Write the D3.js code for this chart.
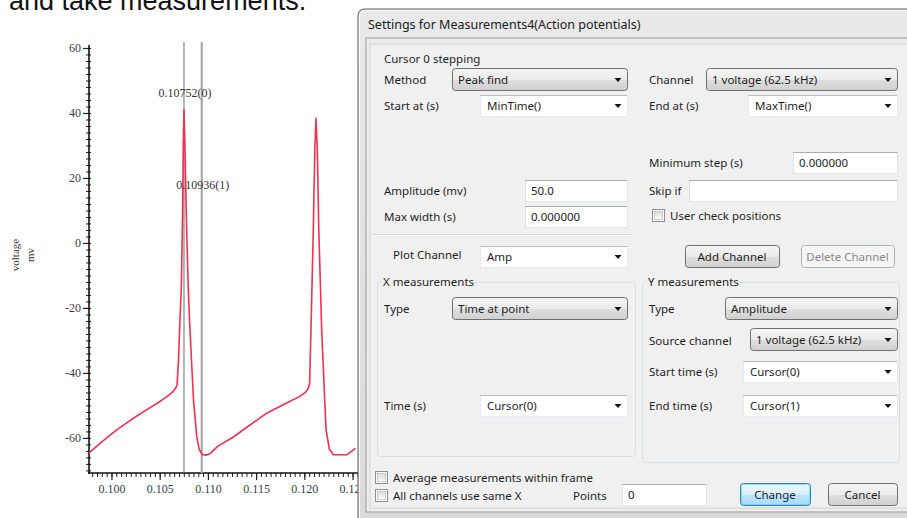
<!DOCTYPE html>
<html>
<head>
<meta charset="utf-8">
<script src="https://cdn.jsdelivr.net/npm/d3@7"></script>
<style>
  html, body { margin: 0; padding: 0; background: #fff; overflow: hidden; }
  svg { display: block; }
</style>
</head>
<body>
<div id="chart"></div>
<script>
// voltage trace (time in s, voltage in mV)
const timeS = [
  0.09767, 0.0990, 0.1005, 0.1020, 0.1035, 0.1047, 0.1058, 0.1063, 0.1066, 0.1068,
  0.10695, 0.1071, 0.10725, 0.10738, 0.10745, 0.10752, 0.10762, 0.10775, 0.10795,
  0.1081, 0.1085, 0.10884, 0.1091, 0.1094, 0.1098,
  0.1102, 0.1110, 0.1126, 0.1140, 0.1161, 0.1180, 0.1195, 0.1201, 0.1204, 0.12055,
  0.1207, 0.12093, 0.12108, 0.12121, 0.12135, 0.1215, 0.1218, 0.12225,
  0.1226, 0.1230, 0.1244, 0.1253
];
const voltageMv = [
  -64.6, -61.2, -57.6, -54.5, -51.6, -49.4, -47.2, -46.0, -44.9, -43.8,
  -36, -24, -13, 10, 31, 41, 30, 10, -13,
  -24, -48, -59.6, -63.5, -65.1, -65.3,
  -64.9, -62.6, -59.8, -56.8, -52.4, -49.5, -47.3, -46.0, -44.8, -43.2,
  -25, 4, 28, 38.4, 28, 4, -27, -57.5,
  -63.5, -65.2, -65.2, -63.2
];
const cursorTimes = [0.10752, 0.10936];
const cursorNames = ['0.10752(0)', '0.10936(1)'];
const yMajorTicks = [-60, -40, -20, 0, 20, 40, 60];
const xMajorTicks = [0.100, 0.105, 0.110, 0.115, 0.120, 0.125];
const yAxisTitle = ['voltage', 'mv'];
const pageHeading = 'and take measurements.';
const dialogTitle = 'Settings for Measurements4(Action potentials)';

const width = 907;
const height = 518;
const uiFont = '"Noto Sans", "Open Sans", sans-serif';
const serif = '"Liberation Serif", "DejaVu Serif", serif';

const svg = d3.select('#chart').append('svg')
  .attr('width', width)
  .attr('height', height)
  .attr('viewBox', `0 0 ${width} ${height}`);

const defs = svg.append('defs');
function grad(id, stops) {
  const g = defs.append('linearGradient').attr('id', id)
    .attr('x1', 0).attr('y1', 0).attr('x2', 0).attr('y2', 1);
  stops.forEach(s => g.append('stop').attr('offset', s[0]).attr('stop-color', s[1]));
}
grad('btnGrad', [[0, '#f4f4f4'], [0.5, '#ebebeb'], [0.52, '#dedede'], [1, '#d0d0d0']]);
grad('defGrad', [[0, '#eaf6fd'], [0.5, '#d9f0fc'], [0.52, '#bee6fd'], [1, '#a7d9f5']]);
grad('titleGrad', [[0, '#e9e9e9'], [1, '#dadada']]);
grad('chkGrad', [[0, '#dcdcdc'], [1, '#fbfbfb']]);

// page heading, its top is cut off by the screenshot edge just like the original
svg.append('text')
  .attr('x', 9).attr('y', 10)
  .attr('font-family', '"Liberation Sans", Arial, sans-serif')
  .attr('font-size', 27)
  .attr('fill', '#111')
  .text(pageHeading);

// ---- the chart ----
const x = d3.scaleLinear().domain([0.09767, 0.12546]).range([89, 357]);
const y = d3.scaleLinear().domain([-70.8, 60]).range([473, 48]);

const plot = svg.append('g').attr('class', 'plot');

// y axis: minor every 2 mV, major every 20 mV
const yMinor = d3.range(-70, 61, 2);
plot.append('g')
  .attr('transform', 'translate(89,0)')
  .call(d3.axisLeft(y).tickValues(yMinor).tickSize(3).tickFormat(''))
  .call(g => g.select('.domain').remove())
  .call(g => g.selectAll('.tick line').attr('x2', 2).attr('x1', -3).attr('stroke', '#222'));
plot.append('g')
  .attr('transform', 'translate(89,0)')
  .call(d3.axisLeft(y).tickValues(yMajorTicks).tickSize(6).tickPadding(2).tickFormat(d => String(d)))
  .call(g => g.select('.domain').remove())
  .call(g => g.selectAll('.tick line').attr('stroke', '#222').attr('stroke-width', 1.2))
  .call(g => g.selectAll('.tick text')
    .attr('font-family', serif).attr('font-size', 12).attr('fill', '#3a3a4a'));
plot.append('line')
  .attr('x1', 89).attr('x2', 89).attr('y1', 45).attr('y2', 474)
  .attr('stroke', '#111').attr('stroke-width', 1.6);

// x axis: minor every 0.5 ms
const xMinor = d3.range(0.098, 0.1256, 0.0005);
plot.append('g')
  .attr('transform', 'translate(0,473)')
  .call(d3.axisBottom(x).tickValues(xMinor).tickSize(4).tickFormat(''))
  .call(g => g.select('.domain').remove())
  .call(g => g.selectAll('.tick line').attr('stroke', '#222'));
plot.append('g')
  .attr('transform', 'translate(0,473)')
  .call(d3.axisBottom(x).tickValues(xMajorTicks).tickSize(7).tickPadding(4).tickFormat(d3.format('.3f')))
  .call(g => g.select('.domain').remove())
  .call(g => g.selectAll('.tick line').attr('stroke', '#222').attr('stroke-width', 1.2))
  .call(g => g.selectAll('.tick text')
    .attr('font-family', serif).attr('font-size', 12).attr('fill', '#3a3a4a'));
plot.append('line')
  .attr('x1', 88).attr('x2', 360).attr('y1', 473).attr('y2', 473)
  .attr('stroke', '#111').attr('stroke-width', 1.6);

// y axis title, two rotated lines
yAxisTitle.forEach((t, i) => {
  plot.append('text')
    .attr('transform', `translate(${19 + i * 15},255) rotate(-90)`)
    .attr('text-anchor', 'middle')
    .attr('font-family', serif).attr('font-size', 11).attr('fill', '#333')
    .text(t);
});

// cursors
const cursorStroke = ['#6e6e6e', '#a2a2a2'];
const cursorWidth = [1, 2];
const cursorLabelY = [97, 189];
cursorTimes.forEach((t, i) => {
  plot.append('line')
    .attr('x1', x(t)).attr('x2', x(t)).attr('y1', 42).attr('y2', 473)
    .attr('stroke', cursorStroke[i]).attr('stroke-width', cursorWidth[i]);
});

// trace
const trace = timeS.map((t, i) => [t, voltageMv[i]]);
plot.append('path')
  .datum(trace)
  .attr('fill', 'none')
  .attr('stroke', '#f2304f')
  .attr('stroke-width', 1.6)
  .attr('stroke-linejoin', 'round')
  .attr('d', d3.line().x(d => x(d[0])).y(d => y(d[1])));

cursorTimes.forEach((t, i) => {
  plot.append('text')
    .attr('x', x(t) + 1).attr('y', cursorLabelY[i])
    .attr('text-anchor', 'middle')
    .attr('font-family', serif).attr('font-size', 12).attr('fill', '#333')
    .text(cursorNames[i]);
});

// ---- the settings dialog laid over the right side ----
const dlg = svg.append('g').attr('class', 'dialog')
  .attr('font-family', uiFont).attr('font-size', 11.5).attr('fill', '#1e1e1e');

dlg.append('path')
  .attr('d', 'M358,520 L358,16 Q358,9 365,9 L912,9 L912,520 Z')
  .attr('fill', 'url(#titleGrad)').attr('stroke', '#5c5c5c');
dlg.append('path')
  .attr('d', 'M359.5,520 L359.5,17 Q359.5,10.5 366,10.5 L912,10.5')
  .attr('fill', 'none').attr('stroke', '#fbfbfb');
dlg.append('rect')
  .attr('x', 366).attr('y', 38).attr('width', 560).attr('height', 474)
  .attr('fill', '#ececec').attr('stroke', '#9a9a9a');
dlg.append('rect')
  .attr('x', 370).attr('y', 44).attr('width', 560).attr('height', 464)
  .attr('fill', '#f0f0f0').attr('stroke', '#d2d2d2');
dlg.append('text')
  .attr('x', 368).attr('y', 25).attr('dy', '0.35em')
  .attr('font-size', 12.5).attr('fill', '#1b1b1b')
  .text(dialogTitle);

function label(x0, yc, t, color) {
  dlg.append('text').attr('x', x0).attr('y', yc).attr('dy', '0.35em')
    .attr('fill', color || '#1e1e1e').text(t);
}
function arrow(xc, yc) {
  dlg.append('path')
    .attr('d', `M${xc - 3.5},${yc - 2} L${xc + 3.5},${yc - 2} L${xc},${yc + 2} Z`)
    .attr('fill', '#111');
}
function buttonCombo(x0, x1, yc, t) {
  dlg.append('rect').attr('x', x0 + 0.5).attr('y', yc - 11.5).attr('width', x1 - x0)
    .attr('height', 22).attr('rx', 3).attr('fill', 'url(#btnGrad)').attr('stroke', '#707070');
  label(x0 + 6, yc, t);
  arrow(x1 - 9, yc);
}
function editCombo(x0, x1, yc, t) {
  dlg.append('rect').attr('x', x0 + 0.5).attr('y', yc - 10.5).attr('width', x1 - x0)
    .attr('height', 21).attr('fill', '#fff').attr('stroke', '#e6e9ee');
  dlg.append('line').attr('x1', x0).attr('x2', x1).attr('y1', yc - 10.5).attr('y2', yc - 10.5)
    .attr('stroke', '#b9bcc2');
  label(x0 + 7, yc, t);
  arrow(x1 - 9, yc);
}
function textBox(x0, x1, yc, t) {
  dlg.append('rect').attr('x', x0 + 0.5).attr('y', yc - 10.5).attr('width', x1 - x0)
    .attr('height', 21).attr('fill', '#fff').attr('stroke', '#dfe3e8');
  dlg.append('line').attr('x1', x0).attr('x2', x1).attr('y1', yc - 10.5).attr('y2', yc - 10.5)
    .attr('stroke', '#abadb3');
  if (t) label(x0 + 6, yc, t);
}
function button(x0, x1, yc, t, kind) {
  const disabled = kind === 'disabled';
  const isDefault = kind === 'default';
  dlg.append('rect').attr('x', x0 + 0.5).attr('y', yc - 11.5).attr('width', x1 - x0)
    .attr('height', 22).attr('rx', 3)
    .attr('fill', disabled ? '#f4f4f4' : (isDefault ? 'url(#defGrad)' : 'url(#btnGrad)'))
    .attr('stroke', disabled ? '#adb2b5' : (isDefault ? '#3c7fb1' : '#707070'));
  if (isDefault) {
    dlg.append('rect').attr('x', x0 + 1.5).attr('y', yc - 10.5).attr('width', x1 - x0 - 2)
      .attr('height', 20).attr('rx', 2).attr('fill', 'none').attr('stroke', '#48d3fb')
      .attr('stroke-opacity', 0.6);
  }
  dlg.append('text').attr('x', (x0 + x1) / 2).attr('y', yc).attr('dy', '0.35em')
    .attr('text-anchor', 'middle').attr('fill', disabled ? '#8a8a8a' : '#1e1e1e').text(t);
}
function checkbox(x0, yc, t) {
  dlg.append('rect').attr('x', x0 + 0.5).attr('y', yc - 6.5).attr('width', 12).attr('height', 12)
    .attr('fill', '#fff').attr('stroke', '#8e8f8f');
  dlg.append('rect').attr('x', x0 + 2.5).attr('y', yc - 4.5).attr('width', 8).attr('height', 8)
    .attr('fill', 'url(#chkGrad)').attr('stroke', '#b0b0b0').attr('stroke-width', 0.6);
  label(x0 + 18, yc, t);
}
function groupBox(x0, x1, y0, y1, t, labelW) {
  dlg.append('rect').attr('x', x0 + 0.5).attr('y', y0 + 0.5).attr('width', x1 - x0)
    .attr('height', y1 - y0).attr('rx', 3).attr('fill', 'none').attr('stroke', '#d5dfe5');
  dlg.append('rect').attr('x', x0 + 4).attr('y', y0 - 7).attr('width', labelW).attr('height', 14)
    .attr('fill', '#f0f0f0');
  label(x0 + 6, y0, t);
}

label(384, 59, 'Cursor 0 stepping');
label(384, 80, 'Method');
buttonCombo(452, 627, 80, 'Peak find');
label(649, 80, 'Channel');
buttonCombo(706, 897, 80, '1 voltage (62.5 kHz)');
label(384, 106, 'Start at (s)');
editCombo(480, 627, 106, 'MinTime()');
label(649, 106, 'End at (s)');
editCombo(748, 897, 106, 'MaxTime()');

label(649, 163, 'Minimum step (s)');
textBox(793, 897, 163, '0.000000');
label(384, 191, 'Amplitude (mv)');
textBox(525, 627, 191, '50.0');
label(649, 191, 'Skip if');
textBox(689, 897, 191, '');
label(384, 217, 'Max width (s)');
textBox(525, 627, 217, '0.000000');
checkbox(652, 216, 'User check positions');
dlg.append('line').attr('x1', 372).attr('x2', 632).attr('y1', 234.5).attr('y2', 234.5)
  .attr('stroke', '#d8d8d8');
dlg.append('line').attr('x1', 372).attr('x2', 632).attr('y1', 235.5).attr('y2', 235.5)
  .attr('stroke', '#ffffff');

label(393, 255, 'Plot Channel');
editCombo(480, 627, 257, 'Amp');
button(685, 779, 257, 'Add Channel');
button(801, 894, 257, 'Delete Channel', 'disabled');

groupBox(377, 635, 282, 456, 'X measurements', 92);
groupBox(642, 899, 282, 462, 'Y measurements', 92);

label(384, 309, 'Type');
buttonCombo(452, 627, 309, 'Time at point');
label(649, 309, 'Type');
buttonCombo(725, 897, 309, 'Amplitude');
label(649, 341, 'Source channel');
buttonCombo(750, 897, 340, '1 voltage (62.5 kHz)');
label(649, 372, 'Start time (s)');
editCombo(743, 897, 372, 'Cursor(0)');
label(384, 406, 'Time (s)');
editCombo(480, 627, 406, 'Cursor(0)');
label(649, 406, 'End time (s)');
editCombo(743, 897, 406, 'Cursor(1)');

checkbox(375, 478, 'Average measurements within frame');
checkbox(375, 496, 'All channels use same X');
label(573, 496, 'Points');
textBox(622, 706, 495, '0');
button(740, 810, 495, 'Change', 'default');
button(828, 897, 495, 'Cancel');
</script>
</body>
</html>
